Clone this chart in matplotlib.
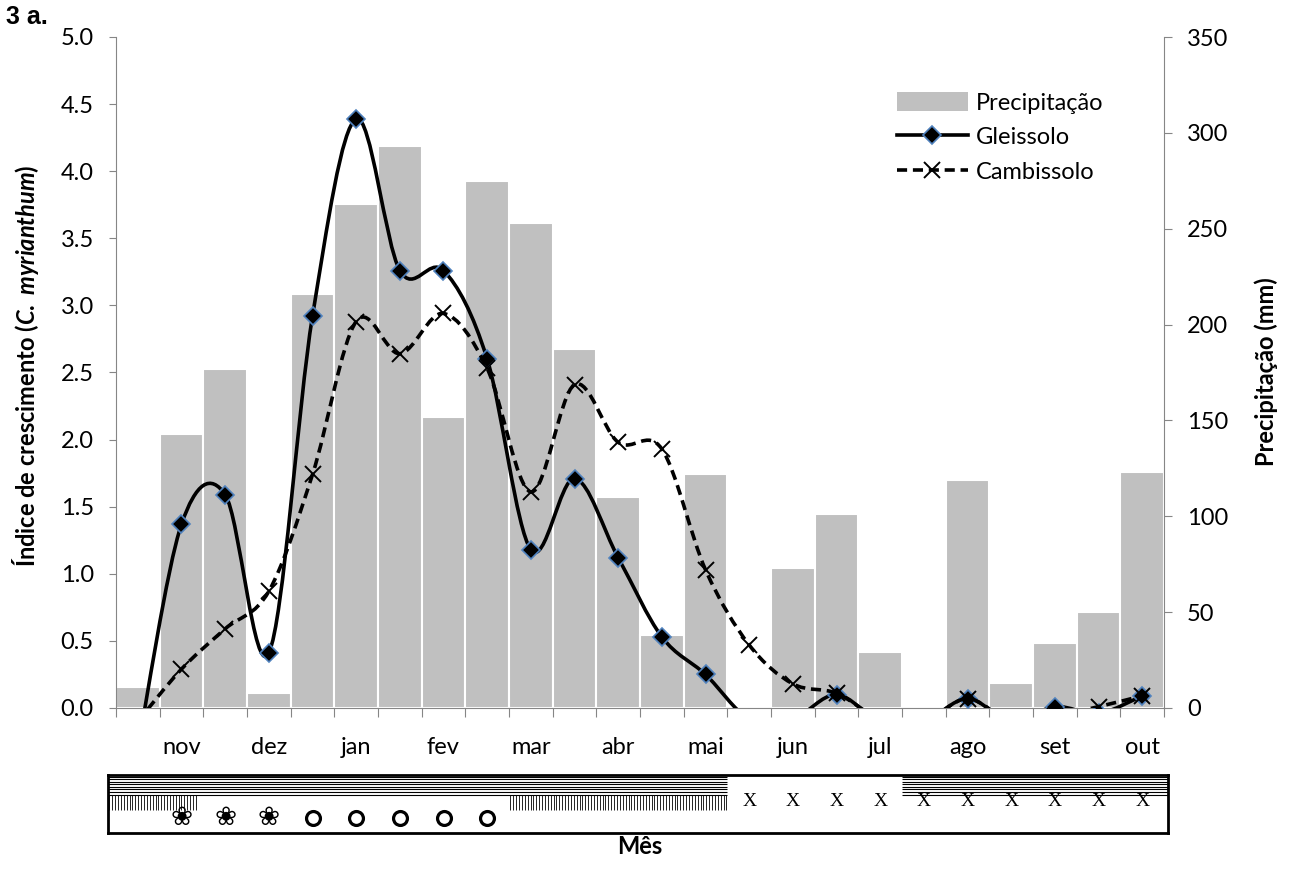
import matplotlib
matplotlib.use("Agg")
import matplotlib.pyplot as plt
import numpy as np
from matplotlib.path import Path
from matplotlib.patches import PathPatch, Patch
from matplotlib.lines import Line2D

plt.rcParams['font.family'] = ['Lato', 'DejaVu Sans']
plt.rcParams['mathtext.fontset'] = 'custom'
plt.rcParams['mathtext.it'] = 'Lato:italic:bold'
plt.rcParams['mathtext.rm'] = 'Lato:bold'

# Data (24 half-month periods, nov .. out)
months = ['nov', 'dez', 'jan', 'fev', 'mar', 'abr', 'mai', 'jun', 'jul', 'ago', 'set', 'out']
precip = [11, 143, 177, 8, 216, 263, 293, 152, 275, 253, 187, 110,
          38, 122, 0, 73, 101, 29, 0, 119, 13, 34, 50, 123]
# values below zero lie under the clipped axis in the original
gleissolo = [-0.3, 1.37, 1.59, 0.41, 2.92, 4.39, 3.26, 3.26, 2.60, 1.18, 1.71, 1.12,
             0.53, 0.25, -0.08, -0.08, 0.10, -0.1, -0.1, 0.07, -0.1, 0.01, -0.04, 0.09]
cambissolo = [-0.1, 0.29, 0.59, 0.87, 1.74, 2.88, 2.64, 2.94, 2.53, 1.61, 2.41, 1.98,
              1.93, 1.03, 0.47, 0.18, 0.11, -0.08, -0.1, 0.07, -0.1, -0.06, 0.01, 0.09]

# Phenology strip (period indices)
flower_periods = [1, 2, 3]
fruit_periods = [4, 5, 6, 7, 8]
leafless_periods = list(range(14, 24))
hline_bands = [(-0.68, 13.5), (17.5, 23.59)]
vline_bands = [(-0.68, 1.35), (8.5, 13.5)]

x = np.arange(len(precip))


def smooth_path(xs, ys):
    # Excel-like smoothed line: cubic bezier through every point
    n = len(xs)
    verts = [(xs[0], ys[0])]
    codes = [Path.MOVETO]
    for i in range(n - 1):
        a = i - 1 if i > 0 else i
        b = i + 2 if i + 2 < n else i + 1
        c1 = (xs[i] + (xs[i + 1] - xs[a]) / 6, ys[i] + (ys[i + 1] - ys[a]) / 6)
        c2 = (xs[i + 1] - (xs[b] - xs[i]) / 6, ys[i + 1] - (ys[b] - ys[i]) / 6)
        verts += [c1, c2, (xs[i + 1], ys[i + 1])]
        codes += [Path.CURVE4] * 3
    return Path(verts, codes)


fig = plt.figure(figsize=(12.95, 8.69), dpi=100)
W, H = 1295, 869
ax = fig.add_axes([116 / W, 1 - 708 / H, 1048 / W, 671 / H])
ax2 = ax.twinx()
ax.set_zorder(ax2.get_zorder() + 1)
ax.patch.set_visible(False)

gray = '#868686'
fs = 17
ax2.bar(x, precip, width=1, color='#c0c0c0', edgecolor='white', linewidth=1.5)
ax2.set_ylim(0, 350)
ax2.set_yticks(np.arange(0, 351, 50))

# Lines
lw = 2.6
ax.add_patch(PathPatch(smooth_path(x, gleissolo), facecolor='none', edgecolor='black',
                       lw=lw, zorder=3))
ax.plot(x, gleissolo, ls='none', marker='D', ms=9.5, mfc='black', mec='#4f81bd', mew=1.2, zorder=4)
ax.add_patch(PathPatch(smooth_path(x, cambissolo), facecolor='none', edgecolor='black',
                       lw=lw, linestyle=(0, (2.8, 1.6)), zorder=5))
ax.plot(x, cambissolo, ls='none', marker='x', ms=11, mec='black', mew=1.4, zorder=6)

ax.set_xlim(-0.5, 23.5)
ax.set_ylim(0, 5)
ax.set_yticks(np.arange(0, 5.01, 0.5))
ax.set_yticklabels([f'{v:.1f}' for v in np.arange(0, 5.01, 0.5)])

ax.set_xticks(np.arange(-0.5, 24, 1))
ax.set_xticklabels([])
ax.set_xticks(np.arange(1, 24, 2), minor=True)
ax.set_xticklabels(months, minor=True)
ax.tick_params(axis='x', which='major', length=6.5, color=gray, direction='out')
ax.tick_params(axis='x', which='minor', length=0, pad=21, labelsize=fs)
ax.tick_params(axis='y', length=5, color=gray, pad=11, labelsize=fs)
ax2.tick_params(axis='y', length=5.5, color=gray, pad=11, labelsize=fs)

for s in ['top', 'right']:
    ax.spines[s].set_visible(False)
for s in ['top', 'left', 'bottom']:
    ax2.spines[s].set_visible(False)
ax.spines['left'].set_color(gray)
ax.spines['bottom'].set_color(gray)
ax2.spines['right'].set_color(gray)

fig.text(26 / W, 1 - 366 / H, r'Índice de crescimento ($\mathit{C.\ myrianthum}$)',
         rotation=90, ha='center', va='center', fontsize=fs, fontweight='bold')
fig.text(1266 / W, 1 - 372 / H, 'Precipitação (mm)', rotation=90, ha='center',
         va='center', fontsize=fs, fontweight='bold')
fig.text(6 / W, 1 - 17 / H, '3 a.', ha='left', va='center', fontsize=18,
         fontweight='bold', family='Liberation Sans')
fig.text(640 / W, 1 - 847 / H, 'Mês', ha='center', va='center', fontsize=fs,
         fontweight='bold')

handles = [Patch(facecolor='#c0c0c0', edgecolor='none'),
           Line2D([], [], color='black', lw=lw, marker='D', ms=9.5, mfc='black',
                  mec='#4f81bd', mew=1.2),
           Line2D([], [], color='black', lw=lw, ls=(0, (2.8, 1.6)), marker='x', ms=11,
                  mec='black', mew=1.4)]
ax.legend(handles, ['Precipitação', 'Gleissolo', 'Cambissolo'], loc='upper left',
          bbox_to_anchor=(897 / W, 1 - 92 / H), bbox_transform=fig.transFigure,
          frameon=False, fontsize=fs, handlelength=3.0, handleheight=0.85,
          handletextpad=0.35, labelspacing=0.55, borderpad=0, borderaxespad=0)

# Phenology strip below the axis
axb = fig.add_axes([108 / W, 1 - 833 / H, 1060 / W, 58 / H])
axb.set_xlim(-0.683, 23.59)
axb.set_ylim(58, 0)
axb.set_xticks([])
axb.set_yticks([])
for s in axb.spines.values():
    s.set_linewidth(2)
    s.set_color('black')
for x0, x1 in hline_bands:
    axb.hlines(np.linspace(1.7, 19.5, 8), x0, x1, color='black', lw=0.8)
for x0, x1 in vline_bands:
    axb.vlines(np.arange(x0 + 0.03, x1, 0.066), 20, 35, color='black', lw=0.6)
for p in leafless_periods:
    axb.text(p, 27, 'X', ha='center', va='center', fontsize=14, family='Liberation Serif')
for p in flower_periods:
    axb.text(p, 43, '❀', ha='center', va='center', fontsize=19, family='DejaVu Sans')
axb.plot(fruit_periods, [43] * len(fruit_periods), ls='none', marker='o', ms=10,
         mfc='white', mec='black', mew=2.3)

fig.savefig('out.png', dpi=100)
